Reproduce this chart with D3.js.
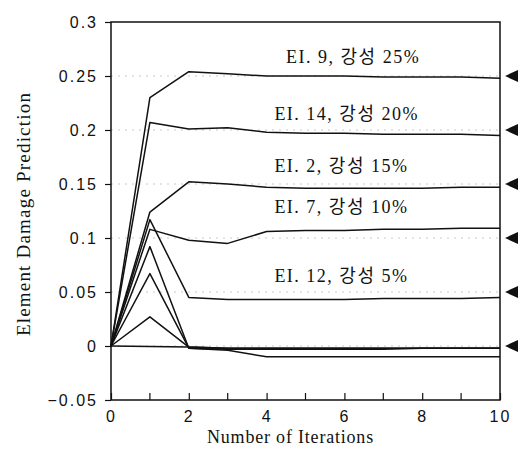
<!DOCTYPE html>
<html>
<head>
<meta charset="utf-8">
<script src="https://cdn.jsdelivr.net/npm/d3@7/dist/d3.min.js"></script>
<style>
  body { margin: 0; background: #fff; }
  svg { display: block; }
  .tick-label { font-family: "Liberation Sans", "DejaVu Sans", sans-serif; font-size: 16px; letter-spacing: 2px; fill: #111; }
  .serif { font-family: "Liberation Serif", "Noto Sans CJK KR", serif; fill: #111; }
</style>
</head>
<body>
<svg id="chart" width="520" height="457"></svg>
<script>
// iterations on the x axis
const iterations = [0, 1, 2, 3, 4, 5, 6, 7, 8, 9, 10];

// labelled damaged elements
const ei9  = [0, 0.230, 0.254, 0.252, 0.250, 0.250, 0.250, 0.249, 0.249, 0.249, 0.248];
const ei14 = [0, 0.207, 0.201, 0.202, 0.198, 0.197, 0.197, 0.196, 0.196, 0.196, 0.195];
const ei2  = [0, 0.124, 0.152, 0.150, 0.147, 0.146, 0.146, 0.146, 0.146, 0.147, 0.147];
const ei7  = [0, 0.108, 0.098, 0.095, 0.106, 0.107, 0.107, 0.108, 0.108, 0.109, 0.109];
const ei12 = [0, 0.117, 0.045, 0.043, 0.043, 0.043, 0.043, 0.044, 0.044, 0.044, 0.045];

// undamaged elements
const other1 = [0, 0.092, -0.002, -0.003, -0.003, -0.003, -0.003, -0.003, -0.002, -0.002, -0.002];
const other2 = [0, 0.067, -0.002, -0.004, -0.010, -0.010, -0.010, -0.010, -0.010, -0.010, -0.010];
const other3 = [0, 0.027, -0.001, -0.002, -0.002, -0.002, -0.002, -0.002, -0.002, -0.002, -0.002];
const other4 = [0, -0.0005, -0.001, -0.002, -0.002, -0.002, -0.002, -0.002, -0.002, -0.002, -0.002];

const labelledSeries = [ei9, ei14, ei2, ei7, ei12];
const seriesLabels = ["EI. 9, 강성 25%", "EI. 14, 강성 20%", "EI. 2, 강성 15%", "EI. 7, 강성 10%", "EI. 12, 강성 5%"];
const otherSeries = [other1, other2, other3, other4];

// true damage markers (arrows on the right)
const trueDamage = [0.25, 0.2, 0.15, 0.1, 0.05, 0];

const yTicks = [-0.05, 0, 0.05, 0.1, 0.15, 0.2, 0.25, 0.3];
const yTickLabels = ["−0.05", "0", "0.05", "0.1", "0.15", "0.2", "0.25", "0.3"];
const xTicks = [0, 2, 4, 6, 8, 10];
const xMinorTicks = [1, 3, 5, 7, 9];

const svg = d3.select('#chart');

const x = d3.scaleLinear().domain([0, 10]).range([111, 500]);
const y = d3.scaleLinear().domain([-0.05, 0.3]).range([400, 22]);

// faint dotted grid
svg.append('g')
  .selectAll('line')
  .data(yTicks.slice(1, -1))
  .join('line')
  .attr('x1', x(0)).attr('x2', x(10))
  .attr('y1', d => y(d)).attr('y2', d => y(d))
  .style('stroke', '#c8c8c8')
  .style('stroke-width', 1)
  .style('stroke-dasharray', '2,5');

// frame
svg.append('rect')
  .attr('x', x(0)).attr('y', y(0.3))
  .attr('width', x(10) - x(0)).attr('height', y(-0.05) - y(0.3))
  .style('fill', 'none')
  .style('stroke', '#111')
  .style('stroke-width', 1.5);

// y axis
const yAxis = d3.axisLeft(y)
  .tickValues(yTicks)
  .tickSize(6)
  .tickPadding(7)
  .tickFormat((d, i) => yTickLabels[i]);

const gy = svg.append('g')
  .attr('transform', `translate(${x(0)},0)`)
  .call(yAxis);
gy.select('.domain').remove();
gy.selectAll('.tick line').style('stroke', '#111').style('stroke-width', 1.2);
gy.selectAll('.tick text').attr('class', 'tick-label').attr('font-family', null).attr('font-size', null);

// x axis, ticks pointing inward
const xAxis = d3.axisBottom(x)
  .tickValues(xTicks)
  .tickSize(-7)
  .tickPadding(8)
  .tickFormat(d3.format('d'));

const gx = svg.append('g')
  .attr('transform', `translate(0,${y(-0.05)})`)
  .call(xAxis);
gx.select('.domain').remove();
gx.selectAll('.tick line').style('stroke', '#111').style('stroke-width', 1.2);
gx.selectAll('.tick text').attr('class', 'tick-label').attr('font-family', null).attr('font-size', null)
  .attr('dy', '0.9em');

svg.append('g')
  .selectAll('line')
  .data(xMinorTicks)
  .join('line')
  .attr('x1', d => x(d)).attr('x2', d => x(d))
  .attr('y1', y(-0.05)).attr('y2', y(-0.05) - 7)
  .style('stroke', '#111')
  .style('stroke-width', 1.2);

// series lines
const line = d3.line()
  .x((d, i) => x(iterations[i]))
  .y(d => y(d));

svg.append('g')
  .selectAll('path')
  .data(otherSeries.concat(labelledSeries))
  .join('path')
  .attr('d', line)
  .style('fill', 'none')
  .style('stroke', '#111')
  .style('stroke-width', 1.5)
  .style('stroke-linejoin', 'round');

// series labels, sitting just above the final value
svg.append('g')
  .selectAll('text')
  .data(labelledSeries)
  .join('text')
  .attr('class', 'serif')
  .attr('x', (d, i) => x(i === 0 ? 4.5 : 4.2))
  .attr('y', d => y(d[d.length - 1] + 0.02))
  .attr('dy', '0.35em')
  .style('font-size', '18px')
  .style('letter-spacing', '1.5px')
  .text((d, i) => seriesLabels[i]);

// arrows for the true damage
svg.append('g')
  .selectAll('path')
  .data(trueDamage)
  .join('path')
  .attr('transform', d => `translate(${x(10) + 5},${y(d)})`)
  .attr('d', 'M0,0L13,-6L13,6Z')
  .style('fill', '#111');

// axis titles
svg.append('text')
  .attr('class', 'serif')
  .attr('transform', `translate(30,${(y(0.3) + y(-0.05)) / 2 + 3}) rotate(-90)`)
  .attr('text-anchor', 'middle')
  .style('font-size', '19px')
  .style('letter-spacing', '1.2px')
  .text('Element Damage Prediction');

svg.append('text')
  .attr('class', 'serif')
  .attr('x', (x(0) + x(10)) / 2 - 15)
  .attr('y', 443)
  .attr('text-anchor', 'middle')
  .style('font-size', '18px')
  .style('letter-spacing', '0.8px')
  .text('Number of Iterations');
</script>
</body>
</html>
